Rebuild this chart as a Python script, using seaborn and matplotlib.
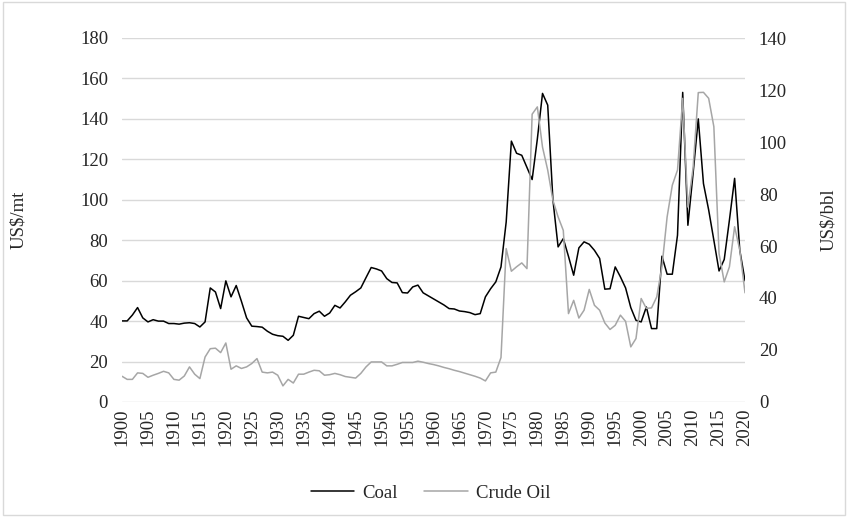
import matplotlib
matplotlib.use("Agg")
from matplotlib import pyplot as plt
from matplotlib.patches import Rectangle
import seaborn as sns

years = list(range(1900, 2021))

# US$/mt
coal = [40.1, 40.1, 43, 46.7, 41.6, 39.6, 40.7, 40, 40, 38.8,
        38.8, 38.5, 39, 39.2, 38.8, 37.1, 39.6, 56.4, 54.4, 46.2,
        59.9, 52, 57.6, 49.8, 41.6, 37.5, 37.3, 37, 35, 33.5,
        32.8, 32.5, 30.5, 33, 42.4, 41.8, 41.2, 43.7, 44.9, 42.4,
        44, 47.8, 46.5, 49.5, 52.8, 54.5, 56.4, 61.5, 66.5, 65.8,
        64.8, 61, 59.1, 58.9, 54.1, 53.9, 56.9, 57.8, 54, 52.5,
        51, 49.5, 48, 46.2, 46, 45, 44.7, 44.2, 43.2, 43.7,
        52, 56, 59.4, 66.8, 89, 129, 123, 122, 116, 110,
        130, 152.6, 146.8, 100, 76.7, 80.8, 72, 62.7, 76.2, 79.2,
        78, 75, 71, 55.8, 56, 66.8, 61.9, 56.4, 46.7, 40.4,
        39.6, 47, 36.3, 36.3, 72.1, 63.2, 63.2, 82.5, 153.1, 87.4,
        113, 140, 108, 95, 80, 64.8, 70.5, 90, 110.6, 75,
        60]

# US$/bbl
crude = [9.9, 8.7, 8.7, 11.2, 11, 9.5, 10.3, 11, 11.8, 11.2,
         8.7, 8.4, 10, 13.5, 10.7, 9, 17.3, 20.5, 20.7, 19,
         22.7, 12.6, 13.9, 12.9, 13.5, 14.8, 16.7, 11.5, 11.2, 11.5,
         10.3, 6.2, 8.7, 7.3, 10.7, 10.7, 11.5, 12.2, 12, 10.3,
         10.5, 11, 10.5, 9.8, 9.5, 9.2, 11, 13.5, 15.4, 15.4,
         15.4, 13.9, 13.9, 14.5, 15.2, 15.2, 15.2, 15.7, 15.3, 14.8,
         14.4, 13.9, 13.3, 12.8, 12.2, 11.7, 11.1, 10.5, 9.9, 9.2,
         8.1, 11.2, 11.5, 17.1, 59, 50.3, 52, 53.5, 51.3, 110.7,
         113.5, 98, 89.2, 77.6, 71.2, 66, 34, 39.1, 32.3, 35.3,
         43.3, 37.2, 35.3, 30.4, 27.9, 29.5, 33.4, 31, 21.2, 24.4,
         39.8, 36, 36.2, 40.4, 52, 71.2, 83.4, 89.2, 116.8, 75,
         90, 119, 119.1, 116.8, 105.9, 57.1, 46.2, 52, 67.4, 58.4,
         42]

sns.set_theme(style="white")
plt.rcParams['font.family'] = ['Liberation Serif', 'DejaVu Serif']
fs = 13.5

fig = plt.figure(figsize=(8.48, 5.17), dpi=100)
ax = fig.add_axes([122 / 848, 1 - 402 / 517, 623 / 848, 364 / 517])
ax2 = ax.twinx()

sns.lineplot(x=years, y=coal, ax=ax, color='black', linewidth=1.1, label='Coal')
sns.lineplot(x=years, y=crude, ax=ax2, color='#a6a6a6', linewidth=1.1, label='Crude Oil')

ax.set_xlim(1900, 2020)
ax.set_ylim(0, 180)
ax2.set_ylim(0, 140)
ax.set_yticks(range(0, 181, 20))
ax2.set_yticks(range(0, 141, 20))
ax.set_xticks(range(1900, 2021, 5))
ax.set_xticklabels([str(y) for y in range(1900, 2021, 5)], rotation=90)

ax.yaxis.grid(True, color='#d9d9d9', linewidth=1)
ax.xaxis.grid(False)
ax2.grid(False)
for a in (ax, ax2):
    for s in a.spines.values():
        s.set_visible(False)
ax.tick_params(axis='both', length=0, labelsize=fs, colors='#262626')
ax.tick_params(axis='y', pad=10)
ax.tick_params(axis='x', pad=5)
ax2.tick_params(axis='y', length=0, labelsize=fs, pad=10, colors='#262626')

ax.set_ylabel('US$/mt', fontsize=fs, color='#262626')
ax2.set_ylabel('US$/bbl', fontsize=fs, color='#262626')
ax.yaxis.set_label_coords(-0.152, 0.5)
ax2.yaxis.set_label_coords(1.12, 0.5)

handles = ax.get_legend().legend_handles + ax2.get_legend().legend_handles
ax.get_legend().remove()
ax2.get_legend().remove()
fig.legend(handles, ['Coal', 'Crude Oil'], loc='center', bbox_to_anchor=(0.508, 1 - 493 / 517),
           ncol=2, frameon=False, fontsize=fs, handlelength=2.3, columnspacing=1.4, handletextpad=0.45)

fig.patches.append(Rectangle((0.004, 0.004), 0.992, 0.992, transform=fig.transFigure,
                             fill=False, edgecolor='#d9d9d9', linewidth=1))

plt.savefig('out.png', dpi=100)
